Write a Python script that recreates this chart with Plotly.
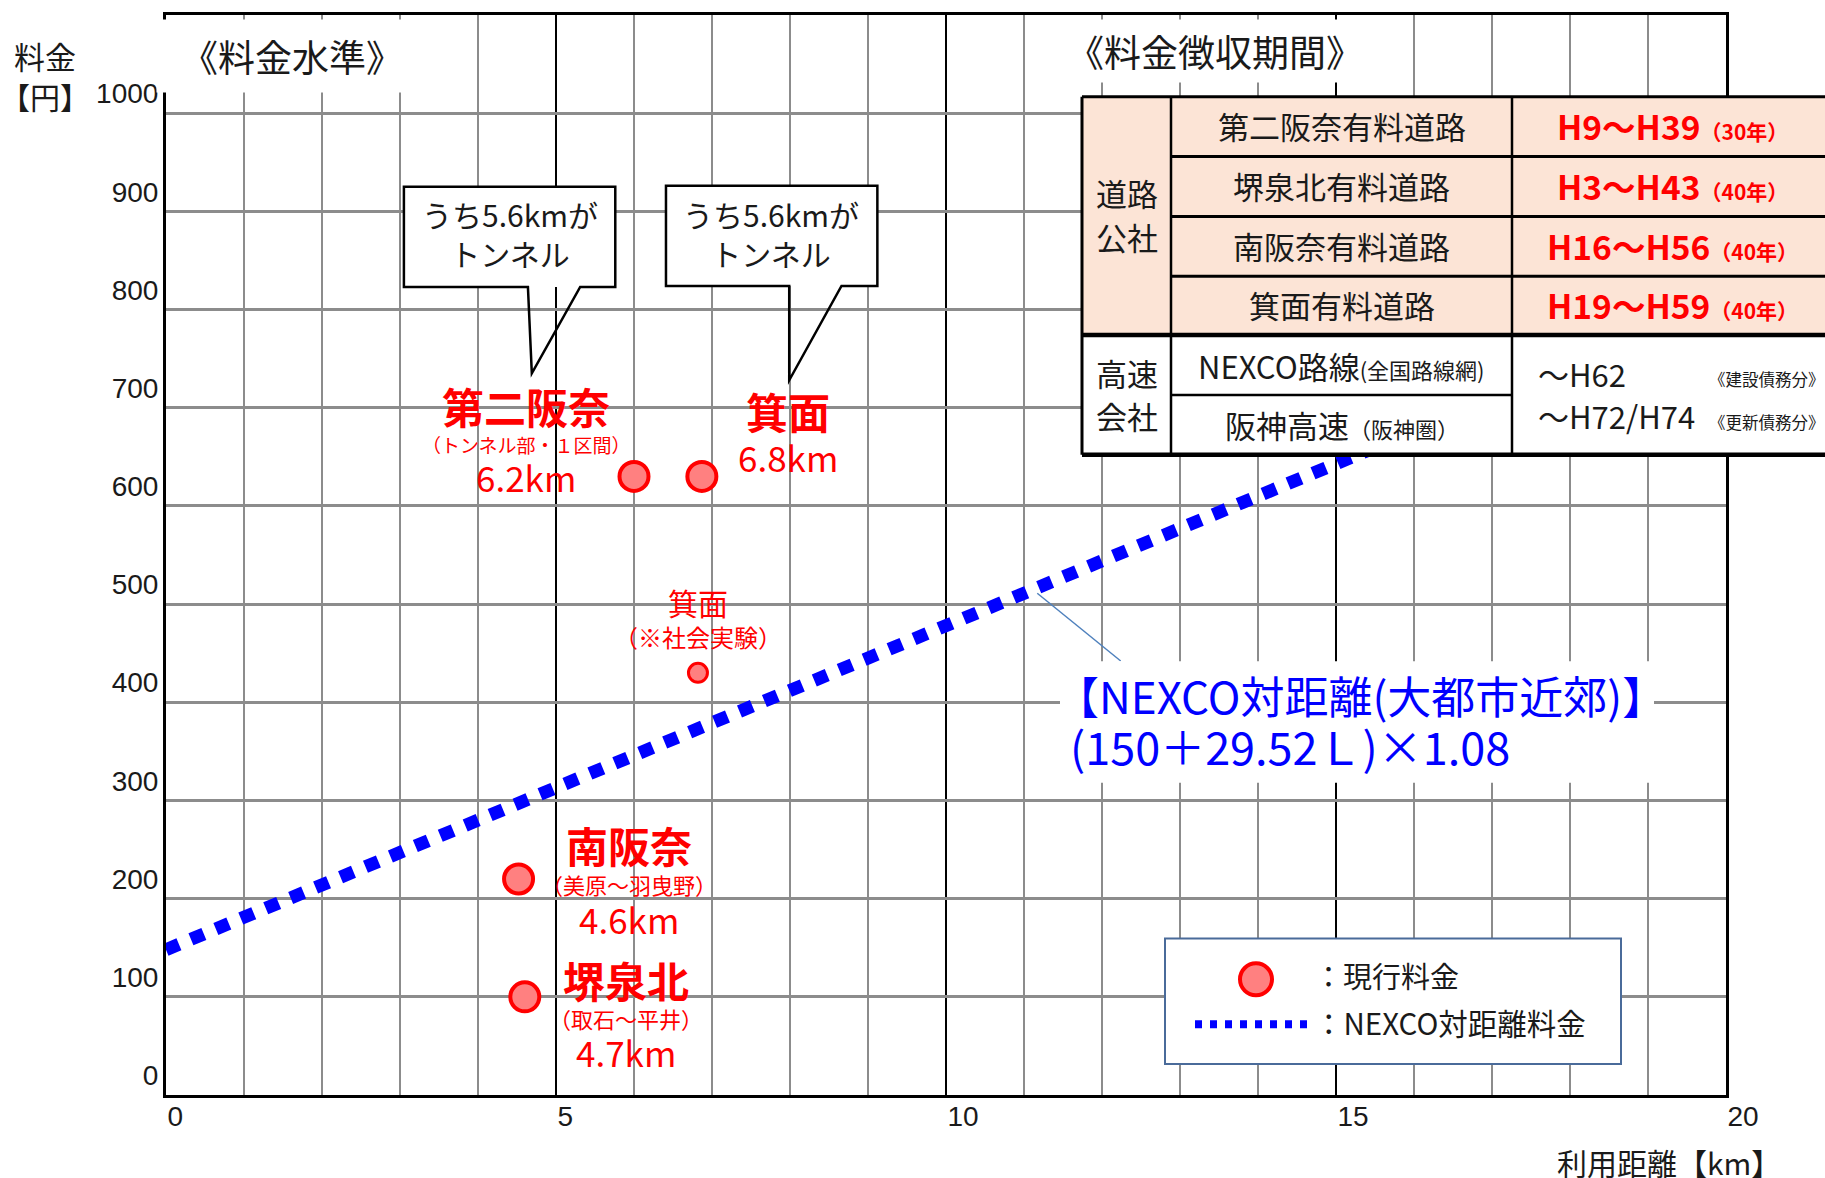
import plotly.graph_objects as go

# ---------------- data ----------------
toll_names = ["第二阪奈", "箕面", "南阪奈", "堺泉北"]
toll_km = [6.0, 6.87, 4.52, 4.6]
toll_yen = [630, 630, 220, 100]

trial_names = ["箕面（社会実験）"]
trial_km = [6.82]
trial_yen = [430]

nexco_km = [0, 20]
nexco_yen = [148, 808]

x_ticks = [0, 5, 10, 15, 20]
y_ticks = [0, 100, 200, 300, 400, 500, 600, 700, 800, 900, 1000]

table_roads = ["第二阪奈有料道路", "堺泉北有料道路", "南阪奈有料道路", "箕面有料道路"]
table_periods = ["H9～H39", "H3～H43", "H16～H56", "H19～H59"]
table_years = ["（30年）", "（40年）", "（40年）", "（40年）"]

# ---------------- layout helpers ----------------
W, H = 1825, 1178
ML, MR, MT, MB = 166, 99, 12, 83
PW = W - ML - MR
PH = H - MT - MB
JP = "Noto Sans CJK JP"
RED = "#FF0000"
BLUE = "#0000FF"
INK = "#1a1a1a"


def px(x):
    return (x - ML) / PW


def py(y):
    return (H - MB - y) / PH


fig = go.Figure()

fig.add_trace(go.Scatter(
    x=nexco_km, y=nexco_yen, mode="lines", name="NEXCO対距離料金",
    line=dict(color=BLUE, width=13, dash="14px,13px"), showlegend=False,
    hoverinfo="skip"))

fig.add_trace(go.Scatter(
    x=toll_km, y=toll_yen, mode="markers", name="現行料金", text=toll_names,
    marker=dict(size=29, color="#FF8080", line=dict(color=RED, width=4)),
    showlegend=False))

fig.add_trace(go.Scatter(
    x=trial_km, y=trial_yen, mode="markers", name="社会実験", text=trial_names,
    marker=dict(size=19, color="#FF8080", line=dict(color=RED, width=3)),
    showlegend=False))

shapes = []
annotations = []


def ann(text, x, y, size, color=INK, xref="x", yref="y", xanchor="center",
        yanchor="middle", **kw):
    annotations.append(dict(text=text, x=x, y=y, xref=xref, yref=yref,
                            xanchor=xanchor, yanchor=yanchor, showarrow=False,
                            font=dict(family=JP, size=size, color=color), **kw))


# ---- callout boxes ----
def callout(x0, x1, y0, y1, tb0, tb1, tipx, tipy):
    shapes.append(dict(type="rect", xref="x", yref="y", x0=x0, x1=x1, y0=y0, y1=y1,
                       fillcolor="white", line=dict(width=0), layer="above"))
    path = (f"M{tb0},{y0} L{x0},{y0} L{x0},{y1} L{x1},{y1} L{x1},{y0} "
            f"L{tb1},{y0} L{tipx},{tipy} Z")
    shapes.append(dict(type="path", xref="x", yref="y", path=path,
                       line=dict(color="black", width=2.5), layer="above"))


callout(3.05, 5.76, 823, 925, 4.64, 5.31, 4.69, 735)
callout(6.41, 9.12, 824, 926, 7.99, 8.66, 7.99, 728)
ann("うち5.6kmが<br>トンネル", 4.41, 877, 30)
ann("うち5.6kmが<br>トンネル", 7.76, 877, 30)

# ---- red labels ----
ann("<b>第二阪奈</b>", 4.62, 702, 42, RED)
ann("（トンネル部・１区間）", 4.62, 663, 19, RED)
ann("6.2km", 4.62, 630, 35, RED)
ann("<b>箕面</b>", 7.97, 697, 42, RED)
ann("6.8km", 7.97, 650, 35, RED)
ann("箕面", 6.82, 502, 30, RED)
ann("（※社会実験）", 6.82, 467, 24, RED)
ann("<b>南阪奈</b>", 5.94, 255, 42, RED)
ann("（美原～羽曳野）", 5.94, 215, 22, RED)
ann("4.6km", 5.94, 180, 35, RED)
ann("<b>堺泉北</b>", 5.9, 118, 42, RED)
ann("（取石～平井）", 5.9, 78, 22, RED)
ann("4.7km", 5.9, 44, 35, RED)

# ---- NEXCO label + leader ----
shapes.append(dict(type="line", xref="x", yref="y", x0=11.17, y0=511, x1=12.24, y1=442,
                   line=dict(color="#4f81bd", width=1.5), layer="above"))
shapes.append(dict(type="rect", xref="paper", yref="paper", x0=px(1060), x1=px(1654),
                   y0=py(782), y1=py(660), fillcolor="white", line=dict(width=0),
                   layer="above"))
ann("【NEXCO対距離(大都市近郊)】", px(1053), py(694), 44, BLUE,
    xref="paper", yref="paper", xanchor="left")
ann("(150＋29.52Ｌ)×1.08", px(1068), py(745), 45, BLUE,
    xref="paper", yref="paper", xanchor="left")

# ---- headings ----
ann("《料金水準》", 1.62, 1058, 37, bgcolor="white", width=270, height=72, borderpad=0)
ann("《料金徴収期間》", 13.45, 1063, 37, bgcolor="white", borderpad=4)
ann("料金", px(45), py(53), 31, xref="paper", yref="paper")
ann("【円】", px(45), py(93), 30, xref="paper", yref="paper")
ann("利用距離【km】", px(1783), py(1162), 30, xref="paper", yref="paper", xanchor="right")

# ---- table ----
TL, TC1, TC2, TR = 1082, 1171, 1512, 1840
rows = [94, 154, 214, 274, 333, 393, 453]
shapes.append(dict(type="rect", xref="paper", yref="paper", x0=px(TL), x1=px(TR),
                   y0=py(rows[4]), y1=py(rows[0]), fillcolor="#FCE4D6",
                   line=dict(width=0), layer="above"))
shapes.append(dict(type="rect", xref="paper", yref="paper", x0=px(TL), x1=px(TR),
                   y0=py(rows[6]), y1=py(rows[4]), fillcolor="white",
                   line=dict(width=0), layer="above"))


def hline(x0, x1, y, w):
    shapes.append(dict(type="line", xref="paper", yref="paper", x0=px(x0), x1=px(x1),
                       y0=py(y), y1=py(y), line=dict(color="black", width=w), layer="above"))


def vline(x, y0, y1, w):
    shapes.append(dict(type="line", xref="paper", yref="paper", x0=px(x), x1=px(x),
                       y0=py(y0), y1=py(y1), line=dict(color="black", width=w), layer="above"))


hline(TL, TR, rows[0], 3)
for r in rows[1:4]:
    hline(TC1, TR, r, 3)
hline(TL, TR, rows[4], 4.5)
hline(TC1, TC2, rows[5], 2.5)
hline(TL, TR, rows[6], 4.5)
vline(TL, rows[0], rows[6], 3)
vline(TC1, rows[0], rows[6], 2.5)
vline(TC2, rows[0], rows[6], 2.5)

cx1 = (TL + TC1) / 2
cx2 = (TC1 + TC2) / 2
cx3 = 1672
ann("道路", px(cx1), py(190), 31, xref="paper", yref="paper")
ann("公社", px(cx1), py(234), 31, xref="paper", yref="paper")
ann("高速", px(cx1), py(370), 31, xref="paper", yref="paper")
ann("会社", px(cx1), py(414), 31, xref="paper", yref="paper")
for i in range(4):
    yc = (rows[i] + rows[i + 1]) / 2 - 1
    ann(table_roads[i], px(cx2), py(yc), 31, xref="paper", yref="paper")
    ann(f"<b>{table_periods[i]}</b><span style='font-size:21px'><b>{table_years[i]}</b></span>",
        px(cx3), py(yc), 33.5, RED, xref="paper", yref="paper")
ann("NEXCO路線<span style='font-size:22px'>(全国路線網)</span>", px(cx2), py(363), 31,
    xref="paper", yref="paper")
ann("阪神高速<span style='font-size:22px'>（阪神圏）</span>", px(cx2), py(423), 31,
    xref="paper", yref="paper")
ann("～H62", px(1536), py(371), 31, xref="paper", yref="paper", xanchor="left")
ann("～H72/H74", px(1536), py(414), 31, xref="paper", yref="paper", xanchor="left")
ann("《建設債務分》", px(1707), py(377), 16.5, xref="paper", yref="paper", xanchor="left")
ann("《更新債務分》", px(1707), py(420), 16.5, xref="paper", yref="paper", xanchor="left")

# ---- custom legend ----
shapes.append(dict(type="rect", xref="paper", yref="paper", x0=px(1165), x1=px(1621),
                   y0=py(1064), y1=py(938), fillcolor="white",
                   line=dict(color="#4a6b9a", width=2), layer="above"))
shapes.append(dict(type="circle", xref="paper", yref="paper", x0=px(1240), x1=px(1272),
                   y0=py(995), y1=py(963), fillcolor="#FF8080",
                   line=dict(color=RED, width=4), layer="above"))
shapes.append(dict(type="line", xref="paper", yref="paper", x0=px(1195), x1=px(1308),
                   y0=py(1024), y1=py(1024), line=dict(color=BLUE, width=8, dash="7px,8px"),
                   layer="above"))
ann("：現行料金", px(1312), py(975), 29, xref="paper", yref="paper", xanchor="left")
ann("：NEXCO対距離料金", px(1312), py(1022), 29.5, xref="paper", yref="paper", xanchor="left")

fig.update_layout(
    width=W, height=H,
    margin=dict(l=ML, r=MR, t=MT, b=MB, pad=0),
    paper_bgcolor="white", plot_bgcolor="white",
    showlegend=False,
    shapes=shapes, annotations=annotations,
    xaxis=dict(range=[0, 20], tickvals=x_ticks, ticktext=[str(v) for v in x_ticks],
               showgrid=True, gridcolor="black", gridwidth=2,
               minor=dict(dtick=1, showgrid=True, gridcolor="#8c8c8c", gridwidth=2),
               showline=True, mirror=True, linecolor="black", linewidth=3,
               zeroline=False, ticks="", ticklabelposition="outside right",
               ticklabelstandoff=-6,
               tickfont=dict(family="Liberation Sans", size=28, color=INK)),
    yaxis=dict(range=[0, 1100], tickvals=y_ticks, ticktext=[str(v) for v in y_ticks],
               showgrid=True, gridcolor="#8c8c8c", gridwidth=2.5,
               showline=True, mirror=True, linecolor="black", linewidth=3,
               zeroline=False, ticks="", ticklabelposition="outside top",
               ticklabelstandoff=-1,
               tickfont=dict(family="Liberation Sans", size=28, color=INK)),
)

fig.write_html("out.html")
